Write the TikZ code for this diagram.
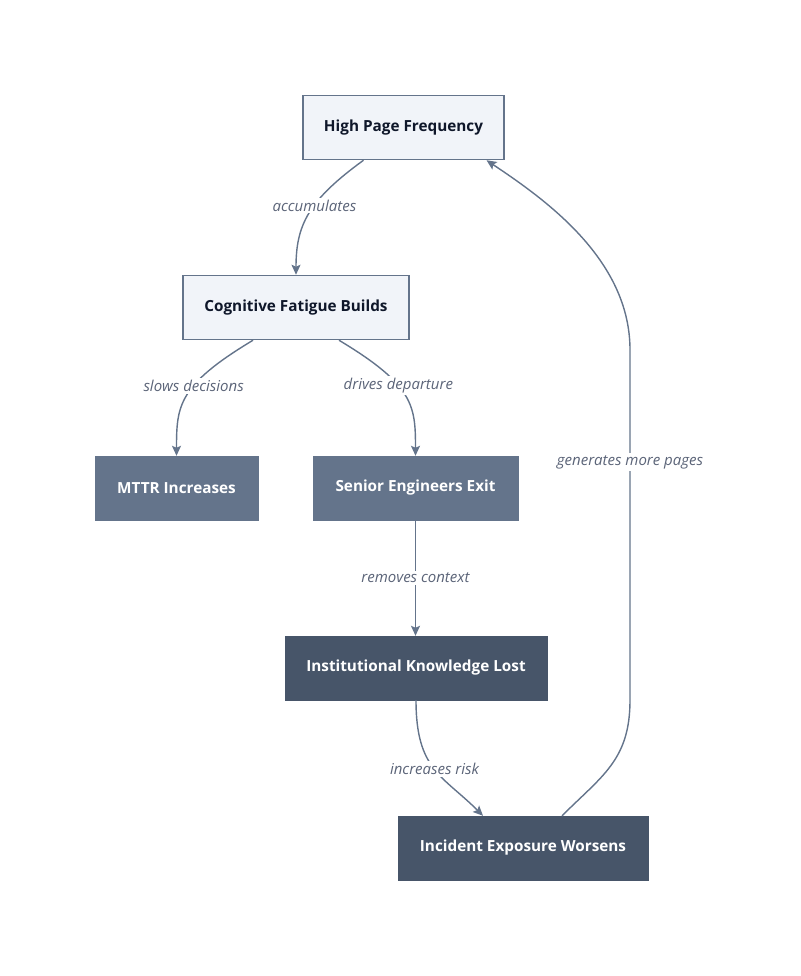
\documentclass[tikz,border=0pt]{standalone}
\usepackage{fontspec}
\setmainfont{Open Sans}
\usetikzlibrary{arrows.meta}

\definecolor{paleFill}{HTML}{F1F4F9}
\definecolor{slateLine}{HTML}{64748B}
\definecolor{slateMid}{HTML}{64748B}
\definecolor{slateDark}{HTML}{475569}
\definecolor{inkDark}{HTML}{0F172A}
\definecolor{labelGray}{HTML}{5B6478}

\begin{document}
\begin{tikzpicture}[x=1pt, y=-1pt, >={Stealth[length=10pt, width=9pt, inset=2pt]},
  box/.style={rectangle, minimum height=64pt, font=\fontsize{15.3}{17}\selectfont\bfseries},
  lightbox/.style={box, fill=paleFill, draw=slateLine, line width=1.5pt, text=inkDark},
  midbox/.style={box, fill=slateMid, draw=slateMid, text=white},
  darkbox/.style={box, fill=slateDark, draw=slateDark, text=white},
  link/.style={->, draw=slateLine, line width=1.4pt},
  lbl/.style={fill=white, inner sep=2pt, text=labelGray, font=\fontsize{15}{17}\selectfont\itshape}]
  % Fatigue loop: paging load feeding back on itself

  \useasboundingbox (0,0) rectangle (800,976);

  % Boxes
  \node[lightbox, minimum width=201pt] (pages) at (403.5,127.5) {High Page Frequency};
  \node[lightbox, minimum width=226pt] (fatigue) at (296,307.5) {Cognitive Fatigue Builds};
  \node[midbox, minimum width=163pt] (mttr) at (176.5,488) {MTTR Increases};
  \node[midbox, minimum width=205pt] (exit) at (415.5,488) {Senior Engineers Exit};
  \node[darkbox, minimum width=262pt] (lost) at (416,668) {Institutional Knowledge Lost};
  \node[darkbox, minimum width=250pt] (worse) at (523,848) {Incident Exposure Worsens};

  % Links
  \draw[link] ([xshift=-40pt]pages.south) .. controls +(-55,40) and +(0,-50) .. node[lbl, pos=0.42] (accum) {accumulates} (fatigue.north);
  \draw[link] ([xshift=-43pt]fatigue.south) .. controls +(-75,45) and +(0,-50) .. node[lbl, pos=0.4] (slows) {slows decisions} (mttr.north);
  \draw[link] ([xshift=43pt]fatigue.south) .. controls +(75,45) and +(0,-50) .. node[lbl, pos=0.4] (drives) {drives departure} (exit.north);
  \draw[link] (exit.south) -- node[lbl] (removes) {removes context} (exit.south |- lost.north);
  \draw[link] (lost.south) .. controls +(0,70) and +(-40,-40) .. node[lbl, pos=0.5] (risk) {increases risk} ([xshift=-40pt]worse.north);

  % Feedback
  \coordinate (upperbend) at (630,350);
  \coordinate (lowerbend) at (630,700);
  \draw[link] ([xshift=39pt]worse.north) .. controls +(40,-40) and +(0,60) .. (lowerbend)
    -- node[lbl, pos=0.68] (more) {generates more pages} (upperbend)
    .. controls +(0,-90) and +(60,40) .. ([xshift=83pt]pages.south);
\end{tikzpicture}
\end{document}
